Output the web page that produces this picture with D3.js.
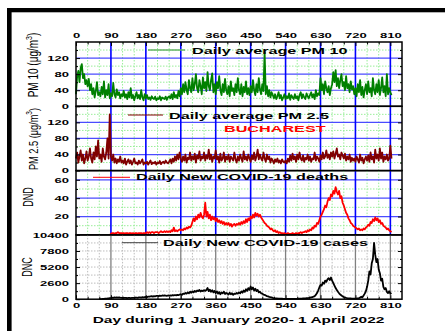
<!DOCTYPE html>
<html>
<head>
<meta charset="utf-8">
<script src="https://cdn.jsdelivr.net/npm/d3@7"></script>
<style>
  body { margin: 0; background: #fff; }
  svg { display: block; font-family: "Liberation Sans", Arial, sans-serif; }
</style>
</head>
<body>
<svg id="chart" width="445" height="331"></svg>
<script>
// daily series, one value every 3 days (day 0 = 1 January 2020)
const dayStep = 3;

const pm10 = [
  30, 75, 88, 60, 95, 105, 70, 80, 55, 65,
  50, 68, 40, 55, 30, 45, 22, 38, 60, 28,
  35, 25, 48, 30, 62, 22, 40, 28, 55, 20,
  32, 25, 58, 30, 22, 42, 28, 35, 20, 30,
  25, 38, 22, 30, 18, 35, 22, 45, 20, 28,
  15, 25, 35, 20, 28, 18, 40, 22, 15, 30,
  20, 28, 18, 22, 16, 25, 20, 18, 24, 15,
  20, 18, 25, 15, 22, 20, 18, 24, 16, 22,
  25, 20, 30, 18, 35, 22, 28, 20, 38, 25,
  45, 30, 55, 35, 60, 40, 30, 65, 45, 35,
  70, 40, 55, 80, 45, 35, 65, 50, 30, 72,
  45, 60, 38, 85, 50, 40, 65, 82, 35, 55,
  30, 60, 45, 75, 40, 28, 55, 35, 68, 40,
  30, 50, 25, 62, 38, 45, 28, 55, 35, 70,
  40, 30, 55, 25, 48, 35, 62, 30, 45, 28,
  50, 35, 65, 40, 28, 55, 35, 70, 42, 30,
  55, 38, 135, 30, 50, 25, 40, 22, 35, 28,
  20, 30, 18, 25, 35, 20, 28, 15, 22, 30,
  18, 25, 20, 32, 16, 28, 22, 18, 30, 20,
  25, 15, 28, 35, 20, 30, 22, 18, 32, 25,
  20, 28, 35, 22, 30, 18, 40, 25, 32, 28,
  70, 40, 55, 30, 62, 45, 35, 50, 28, 45,
  55, 85, 60, 90, 50, 70, 45, 65, 80, 50,
  60, 40, 75, 45, 55, 35, 62, 42, 50, 30,
  45, 25, 55, 35, 65, 28, 48, 22, 40, 55,
  30, 62, 35, 45, 25, 70, 40, 30, 55, 35,
  65, 28, 45, 72, 35, 50, 25, 80, 30, 45,
  35, 28
];

const pm25 = [
  30, 45, 20, 35, 50, 25, 40, 18, 30, 48,
  25, 35, 55, 30, 20, 45, 28, 60, 35, 75,
  30, 40, 22, 55, 35, 28, 45, 80, 30, 140,
  35, 25, 40, 20, 30, 18, 28, 22, 35, 20,
  25, 18, 30, 15, 22, 28, 18, 25, 15, 22,
  30, 18, 20, 15, 25, 18, 22, 28, 15, 20,
  18, 22, 15, 20, 25, 16, 20, 18, 22, 15,
  20, 18, 24, 16, 20, 22, 18, 25, 20, 18,
  22, 28, 18, 30, 22, 35, 25, 40, 28, 45,
  30, 22, 35, 25, 40, 20, 32, 28, 45, 25,
  35, 28, 42, 20, 38, 30, 48, 25, 35, 30,
  45, 25, 38, 30, 52, 28, 40, 22, 35, 30,
  50, 28, 35, 20, 42, 25, 30, 45, 22, 35,
  28, 40, 22, 35, 30, 25, 45, 28, 20, 35,
  25, 40, 30, 22, 48, 28, 35, 25, 40, 30,
  22, 38, 28, 45, 25, 35, 52, 28, 40, 30,
  25, 45, 30, 22, 40, 28, 35, 20, 30, 25,
  18, 28, 22, 30, 20, 25, 18, 28, 22, 20,
  25, 18, 30, 22, 38, 25, 42, 28, 35, 22,
  40, 28, 45, 30, 25, 38, 22, 32, 28, 40,
  25, 35, 22, 30, 28, 45, 25, 35, 30, 22,
  38, 28, 45, 30, 35, 50, 32, 40, 28, 45,
  35, 48, 30, 42, 55, 35, 40, 28, 45, 38,
  30, 42, 25, 35, 28, 40, 22, 32, 25, 30,
  22, 35, 28, 20, 40, 25, 32, 18, 28, 35,
  25, 38, 22, 45, 28, 35, 20, 52, 30, 40,
  25, 55, 30, 45, 22, 35, 28, 40, 25, 30,
  62, 30
];

// daily new COVID-19 deaths, from day 87
const dndStart = 87;
const dnd = [
  0,
  1, 2, 2, 1, 2, 2, 3, 2, 2, 2,
  2, 2, 1, 2, 2, 1, 2, 2, 1, 2,
  1, 2, 2, 1, 2, 2, 2, 1, 2, 2,
  2, 3, 2, 3, 2, 3, 3, 2, 3, 3,
  3, 2, 3, 4, 3, 3, 4, 3, 4, 3,
  4, 3, 5, 4, 8, 4, 5, 4, 5, 6,
  5, 6, 5, 7, 6, 8, 7, 9, 8, 10,
  14, 18, 15, 20, 17, 22, 19, 24, 20, 18,
  22, 35, 20, 25, 18, 22, 16, 20, 17, 19,
  15, 18, 14, 16, 13, 15, 12, 14, 11, 13,
  11, 13, 10, 12, 9, 11, 12, 10, 12, 11,
  13, 11, 14, 12, 15, 13, 17, 14, 18, 16,
  20, 18, 22, 19, 24, 21, 23, 20, 22, 19,
  17, 15, 13, 12, 10, 9, 8, 6, 7, 5,
  4, 5, 3, 4, 2, 3, 2, 2, 1, 2,
  1, 1, 2, 1, 1, 1, 2, 1, 1, 2,
  1, 2, 2, 3, 2, 3, 3, 4, 3, 5,
  4, 6, 5, 8, 7, 10, 9, 13, 12, 16,
  20, 22, 25, 28, 32, 30, 36, 40, 38, 44,
  42, 48, 45, 52, 47, 44, 48, 40, 42, 35,
  32, 28, 24, 22, 18, 16, 13, 12, 10, 9,
  8, 7, 6, 7, 5, 6, 5, 7, 6, 8,
  9, 11, 10, 14, 13, 17, 15, 19, 16, 18,
  14, 16, 12, 13, 10, 9, 8, 6, 7, 5,
  4, 3
];

// daily new COVID-19 cases, from day 60
const dncStart = 60;
const dnc = [
  5, 10, 20, 40, 60, 80, 100, 120, 150, 180,
  200, 250, 220, 280, 260, 300, 250, 280, 240, 220,
  250, 220, 200, 230, 180, 200, 220, 190, 210, 230,
  200, 240, 260, 220, 280, 300, 270, 320, 300, 350,
  380, 350, 420, 400, 450, 480, 420, 500, 470, 520,
  550, 500, 580, 520, 600, 560, 620, 580, 540, 600,
  560, 620, 580, 650, 600, 680, 620, 700, 650, 750,
  800, 700, 900, 850, 1000, 900, 1100, 950, 1200, 1050,
  1250, 1100, 1350, 1200, 1400, 1300, 1500, 1250, 1400, 1300,
  1450, 1350, 1500, 1800, 1300, 1550, 1200, 1450, 1100, 1350,
  1000, 1250, 900, 1150, 800, 1100, 950, 1200, 850, 1000,
  900, 750, 1050, 800, 950, 700, 900, 850, 1000, 900,
  1100, 950, 1250, 1050, 1400, 1200, 1600, 1350, 1800, 1500,
  2050, 1600, 1900, 1400, 1700, 1300, 1500, 1100, 1200, 950,
  900, 750, 700, 600, 500, 450, 380, 320, 280, 220,
  180, 150, 130, 110, 100, 90, 80, 70, 60, 55,
  50, 45, 40, 40, 35, 40, 45, 50, 55, 60,
  60, 70, 80, 90, 100, 110, 120, 140, 160, 180,
  200, 250, 300, 350, 400, 500, 700, 1000, 1400, 1900,
  2300, 2200, 2700, 2500, 3000, 2800, 3200, 3400, 3100, 3500,
  3000, 2600, 2200, 1800, 1500, 1200, 950, 750, 600, 450,
  350, 280, 220, 180, 150, 120, 110, 100, 90, 80,
  100, 120, 150, 180, 250, 400, 300, 600, 900, 1300,
  2000, 3000, 4500, 4000, 5800, 6500, 9100, 7200, 6000, 6500,
  4800, 4200, 3000, 3300, 2000, 1600, 1800, 1200, 1000, 1300,
  900, 1000
];

const xTicks = [0, 90, 180, 270, 360, 450, 540, 630, 720, 810];
const pm10Ticks = [0, 40, 80, 120];
const pm25Ticks = [0, 40, 80, 120];
const dndTicks = [20, 40, 60];
const dncTicks = [0, 2600, 5200, 7800, 10400];

const W = 445, H = 331;
const sx = 1.76;            // the source figure is stretched sideways
const left = 76, right = 402, top0 = 42, panelH = 64.3;

const svg = d3.select("#chart");
svg.append("rect").attr("width", W).attr("height", H).attr("fill", "#fff");

const x = d3.scaleLinear().domain([0, 840]).range([left, right]);

const panels = [
  { values: pm10, start: 0, domain: [0, 160], ticks: pm10Ticks, step: 20, color: "#008000", cases: false },
  { values: pm25, start: 0, domain: [0, 160], ticks: pm25Ticks, step: 20, color: "#800000", cases: false },
  { values: dnd, start: dndStart, domain: [0, 70], ticks: dndTicks, step: 10, color: "#ff0000", cases: false },
  { values: dnc, start: dncStart, domain: [0, 10400], ticks: dncTicks, step: 1300, color: "#000000", cases: true }
];

const minorDays = d3.range(30, 840, 30).filter(d => d % 90 !== 0);

function wideText(sel, px, py, str, size, weight, anchor, fill) {
  return sel.append("text")
    .attr("transform", `translate(${px},${py}) scale(${sx},1)`)
    .attr("font-size", size)
    .attr("font-weight", weight)
    .attr("text-anchor", anchor || "start")
    .attr("fill", fill || "#000")
    .text(str);
}

function styleAxis(g, size) {
  g.select(".domain").remove();
  g.attr("font-family", null).attr("font-size", size).attr("font-weight", "bold");
  g.selectAll(".tick line").attr("stroke", "#000").attr("stroke-width", 1);
}

panels.forEach((p, i) => {
  const y0 = top0 + i * panelH;
  const y = d3.scaleLinear().domain(p.domain).range([y0 + panelH, y0]);
  const g = svg.append("g");

  const yMinor = d3.range(p.domain[0] + p.step, p.domain[1], p.step);

  // grid
  const minorColor = p.cases ? "#bdbdbd" : "#99ee99";
  const majorColor = p.cases ? "#808080" : "#0000ff";
  g.selectAll(".vmin").data(minorDays).join("line")
    .attr("x1", d => x(d)).attr("x2", d => x(d))
    .attr("y1", y0).attr("y2", y0 + panelH)
    .attr("stroke", minorColor).attr("stroke-width", 1).attr("stroke-dasharray", "1.5,1.5");
  g.selectAll(".hgrid").data(yMinor).join("line")
    .attr("x1", left).attr("x2", right)
    .attr("y1", d => y(d)).attr("y2", d => y(d))
    .attr("stroke", d => (!p.cases && p.ticks.includes(d)) ? "#4b4bff" : minorColor)
    .attr("stroke-width", d => (!p.cases && p.ticks.includes(d)) ? 1.2 : 1)
    .attr("stroke-dasharray", d => (!p.cases && p.ticks.includes(d)) ? null : "1.5,1.5");
  g.selectAll(".vmaj").data(xTicks.filter(d => d > 0)).join("line")
    .attr("x1", d => x(d)).attr("x2", d => x(d))
    .attr("y1", y0).attr("y2", y0 + panelH)
    .attr("stroke", majorColor).attr("stroke-width", p.cases ? 1.3 : 1.6);

  // data
  const line = d3.line()
    .x((d, k) => x(p.start + k * dayStep))
    .y(d => y(d));
  g.append("path")
    .datum(p.values)
    .attr("d", line)
    .attr("fill", "none")
    .attr("stroke", p.color)
    .attr("stroke-width", 1.8)
    .attr("stroke-linejoin", "round");

  // frame
  g.append("rect")
    .attr("x", left).attr("y", y0).attr("width", right - left).attr("height", panelH)
    .attr("fill", "none").attr("stroke", "#000").attr("stroke-width", 1.5);

  // left ticks with labels
  const la = g.append("g").attr("transform", `translate(${left},0)`)
    .call(d3.axisLeft(y).tickValues(p.ticks).tickSize(-4).tickPadding(7).tickFormat(d3.format("d")));
  styleAxis(la, 7.4);
  la.selectAll(".tick text")
    .attr("x", -7 / sx)
    .attr("transform", `scale(${sx},1)`);
  const lm = g.append("g").attr("transform", `translate(${left},0)`)
    .call(d3.axisLeft(y).tickValues(yMinor.filter(d => !p.ticks.includes(d))).tickSize(-2).tickFormat(""));
  styleAxis(lm, 7.4);

  // right ticks
  const ra = g.append("g").attr("transform", `translate(${right},0)`)
    .call(d3.axisRight(y).tickValues(p.ticks.filter(d => d > p.domain[0] && d < p.domain[1])).tickSize(-4).tickFormat(""));
  styleAxis(ra, 7.4);
  const rm = g.append("g").attr("transform", `translate(${right},0)`)
    .call(d3.axisRight(y).tickValues(yMinor.filter(d => !p.ticks.includes(d))).tickSize(-2).tickFormat(""));
  styleAxis(rm, 7.4);
});

// top and bottom day axes
const bottomY = top0 + 4 * panelH;
const ta = svg.append("g").attr("transform", `translate(0,${top0})`)
  .call(d3.axisTop(x).tickValues(xTicks).tickSize(-4).tickPadding(4.3));
styleAxis(ta, 7.4);
ta.selectAll(".tick text").attr("transform", `scale(${sx},1)`);
const tm = svg.append("g").attr("transform", `translate(0,${top0})`)
  .call(d3.axisTop(x).tickValues(minorDays).tickSize(-2.5).tickFormat(""));
styleAxis(tm, 7.4);

const ba = svg.append("g").attr("transform", `translate(0,${bottomY})`)
  .call(d3.axisBottom(x).tickValues(xTicks).tickSize(-4).tickPadding(3.3));
styleAxis(ba, 7.4);
ba.selectAll(".tick text").attr("transform", `scale(${sx},1)`);
const bm = svg.append("g").attr("transform", `translate(0,${bottomY})`)
  .call(d3.axisBottom(x).tickValues(minorDays).tickSize(-2.5).tickFormat(""));
styleAxis(bm, 7.4);

// legends
const lg = svg.append("g");
lg.append("line").attr("x1", 148).attr("x2", 185).attr("y1", 50).attr("y2", 50)
  .attr("stroke", "#66b366").attr("stroke-width", 1.5);
wideText(lg, 192, 53.5, "Daily average PM 10", 9.2, "bold");
lg.append("line").attr("x1", 128).attr("x2", 163).attr("y1", 115).attr("y2", 115)
  .attr("stroke", "#800000").attr("stroke-width", 1);
wideText(lg, 169, 119, "Daily average PM 2.5", 9.2, "bold");
wideText(lg, 224, 132.3, "BUCHAREST", 9.2, "bold", "start", "#ff0000");
lg.append("line").attr("x1", 93).attr("x2", 130).attr("y1", 177.3).attr("y2", 177.3)
  .attr("stroke", "#ff0000").attr("stroke-width", 1);
wideText(lg, 136, 180, "Daily New COVID-19 deaths", 9.2, "bold");
lg.append("line").attr("x1", 122).attr("x2", 158).attr("y1", 242.7).attr("y2", 242.7)
  .attr("stroke", "#444").attr("stroke-width", 1);
wideText(lg, 163, 246, "Daily New COVID-19 cases", 9.2, "bold");

// axis titles
wideText(svg, 238.5, 322.7, "Day during 1 January 2020- 1 April 2022", 8.8, "bold", "middle");

function yTitle(cx, cy, size, st, parts) {
  const t = svg.append("text")
    .attr("transform", `translate(${cx},${cy}) scale(${st},1) rotate(-90)`)
    .attr("font-size", size)
    .attr("text-anchor", "middle");
  parts.forEach(pt => {
    const s = t.append("tspan").text(pt.text);
    if (pt.sup) s.attr("font-size", size * 0.7).attr("dy", -size * 0.45);
    if (pt.after) s.attr("dy", size * 0.45);
  });
  return t;
}
yTitle(38, 65, 10, 1.4, [{ text: "PM 10 (μg/m" }, { text: "3", sup: true }, { text: ")", after: true }]);
yTitle(37.7, 139, 9.2, 1.4, [{ text: "PM 2.5 (μg/m" }, { text: "3", sup: true }, { text: ")", after: true }]);
yTitle(33.3, 197, 9, 1.55, [{ text: "DND" }]);
yTitle(31.7, 267, 9, 1.55, [{ text: "DNC" }]);

// outer frame (only top and left edges remain in the source image)
svg.append("rect").attr("x", 7).attr("y", 8).attr("width", W - 7).attr("height", 4.3).attr("fill", "#000");
svg.append("rect").attr("x", 7).attr("y", 8).attr("width", 4.6).attr("height", H - 8).attr("fill", "#000");
</script>
</body>
</html>
